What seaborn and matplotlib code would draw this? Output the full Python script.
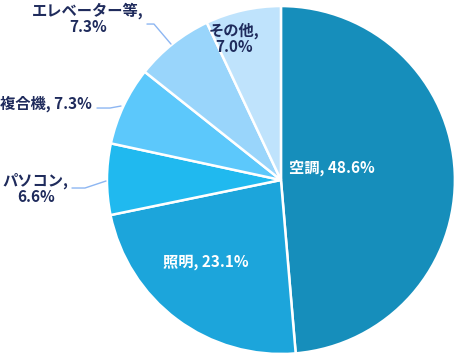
import matplotlib
matplotlib.use("Agg")
import matplotlib.pyplot as plt
import seaborn as sns

# 用途別の電力消費割合
categories = ['空調', '照明', 'パソコン', '複合機', 'エレベーター等', 'その他']
shares = [48.6, 23.1, 6.6, 7.3, 7.3, 7.0]
colors = ['#168EBB', '#1CA5DB', '#20B9EF', '#5CC8FB', '#99D5FB', '#BFE3FC']

sns.set_theme(style='white')
plt.rcParams['font.family'] = ['Noto Sans CJK JP', 'DejaVu Sans']

fig = plt.figure(figsize=(4.56, 3.56), dpi=100)
ax = fig.add_axes([0.2346, 0.0056, 0.763, 0.9775])

wedges, _ = ax.pie(shares, colors=colors, startangle=90, counterclock=False,
                   radius=1.0, wedgeprops=dict(edgecolor='white', linewidth=1.8))
ax.set_xlim(-1, 1)
ax.set_ylim(-1, 1)
ax.set_aspect('equal')
ax.axis('off')

navy = '#1F2B5C'
line_c = '#8DB6F2'
fs = 11

# ラベル位置 (データ座標, 中心=0,0 半径=1)
label_pos = [(0.29, 0.07), (-0.43, -0.47), (-1.41, -0.05), (-1.35, 0.44), (-1.11, 0.925), (-0.27, 0.81)]
inside = [True, True, False, False, False, True]
two_lines = [False, False, True, False, True, True]

for name, val, (x, y), ins, tl, i in zip(categories, shares, label_pos, inside, two_lines, range(len(shares))):
    txt = f'{name},\n{val}%' if tl else f'{name}, {val}%'
    col = 'white' if (ins and i < 2) else navy
    ax.text(x, y, txt, ha='center', va='center', fontsize=fs, fontweight='bold',
            color=col, linespacing=1.0, clip_on=False)

# 引き出し線
def px(xp, yp):
    return (xp - 281) / 174, (180 - yp) / 174

leaders = [
    [(72, 188), (85, 188), (106, 181)],
    [(97, 108), (110, 108), (121, 106)],
    [(147, 24), (154, 24), (171, 44)],
]
for pts in leaders:
    xs, ys = zip(*[px(a, b) for a, b in pts])
    ax.plot(xs, ys, color=line_c, lw=1, clip_on=False)

fig.savefig('out.png', dpi=100)
